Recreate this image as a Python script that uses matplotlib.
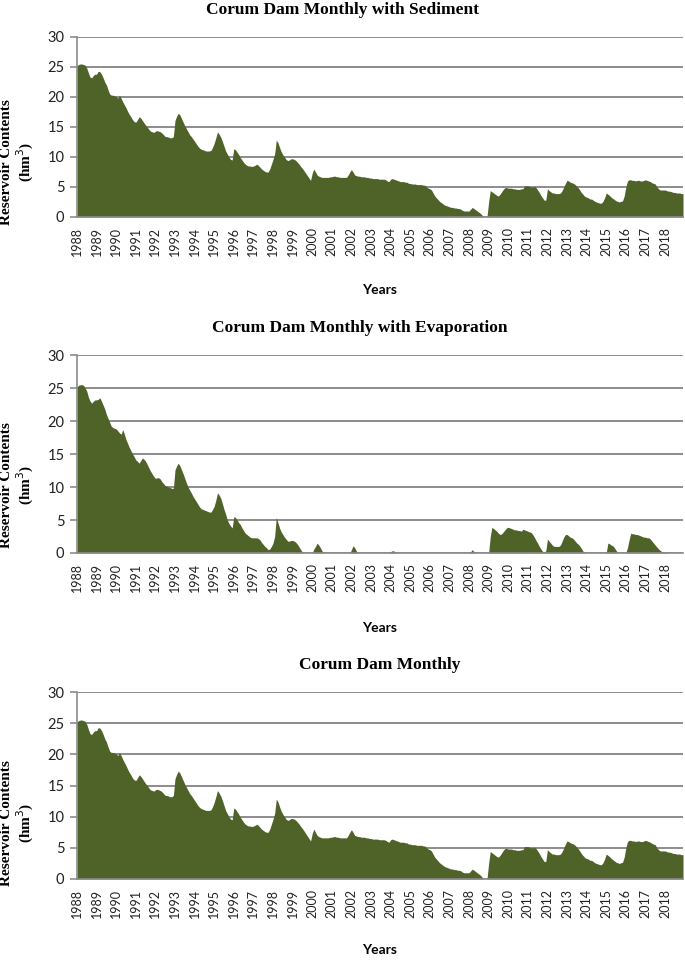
import numpy as np
import matplotlib
matplotlib.use("Agg")
from matplotlib import pyplot as plt

# monthly reservoir contents (hm3), Jan 1988 .. Dec 2018, one row per year
sediment = [
    25.2, 25.4, 25.5, 25.5, 25.4, 25.3, 24.8, 24.0, 23.3, 23.2, 23.6, 23.8,  # 1988
    23.8, 24.3, 24.2, 23.8, 23.2, 22.5, 22.0, 21.2, 20.5, 20.3, 20.3, 20.2,  # 1989
    20.1, 19.8, 20.3, 19.8, 19.2, 18.7, 18.2, 17.6, 17.1, 16.7, 16.2, 15.9,  # 1990
    15.8, 16.2, 16.7, 16.5, 16.1, 15.7, 15.3, 15.0, 14.6, 14.3, 14.2, 14.1,  # 1991
    14.3, 14.4, 14.3, 14.2, 14.0, 13.7, 13.4, 13.4, 13.3, 13.2, 13.2, 13.4,  # 1992
    16.1, 16.8, 17.3, 17.0, 16.4, 15.8, 15.2, 14.7, 14.2, 13.7, 13.4, 13.0,  # 1993
    12.6, 12.2, 11.8, 11.5, 11.3, 11.2, 11.1, 11.0, 11.0, 11.0, 11.1, 11.6,  # 1994
    12.3, 13.2, 14.2, 13.8, 13.3, 12.6, 11.8, 11.0, 10.5, 10.0, 9.6, 9.5,    # 1995
    11.4, 11.2, 10.8, 10.4, 9.9, 9.5, 9.1, 8.8, 8.6, 8.5, 8.5, 8.4,          # 1996
    8.5, 8.6, 8.8, 8.6, 8.3, 8.0, 7.8, 7.6, 7.5, 7.5, 8.0, 8.8,              # 1997
    9.6, 10.5, 12.8, 12.4, 11.6, 10.9, 10.4, 10.0, 9.6, 9.4, 9.5, 9.7,       # 1998
    9.7, 9.6, 9.4, 9.1, 8.8, 8.4, 8.1, 7.7, 7.3, 6.9, 6.5, 6.1,              # 1999
    7.3, 8.0, 7.5, 7.0, 6.8, 6.7, 6.6, 6.6, 6.6, 6.6, 6.6, 6.7,              # 2000
    6.7, 6.8, 6.8, 6.7, 6.7, 6.6, 6.6, 6.6, 6.6, 6.6, 7.0, 7.5,              # 2001
    7.9, 7.5, 7.0, 6.9, 6.8, 6.8, 6.7, 6.7, 6.7, 6.6, 6.6, 6.5,              # 2002
    6.5, 6.4, 6.4, 6.4, 6.4, 6.3, 6.3, 6.3, 6.3, 6.2, 6.0, 5.9,              # 2003
    6.3, 6.4, 6.3, 6.2, 6.1, 6.0, 5.9, 5.9, 5.9, 5.8, 5.8, 5.6,              # 2004
    5.6, 5.5, 5.5, 5.5, 5.4, 5.4, 5.4, 5.4, 5.3, 5.3, 5.0, 4.8,              # 2005
    4.7, 4.5, 4.0, 3.5, 3.2, 2.9, 2.6, 2.4, 2.2, 2.0, 1.9, 1.8,              # 2006
    1.7, 1.6, 1.6, 1.5, 1.5, 1.4, 1.4, 1.3, 1.1, 1.0, 1.0, 1.0,              # 2007
    1.0, 1.3, 1.6, 1.4, 1.2, 1.0, 0.8, 0.6, 0.3, 0.0, 0.0, 0.0,              # 2008
    2.5, 4.4, 4.2, 4.0, 3.8, 3.6, 3.5, 3.8, 4.2, 4.6, 4.9, 4.9,              # 2009
    4.8, 4.8, 4.8, 4.7, 4.7, 4.6, 4.6, 4.6, 4.7, 4.7, 5.2, 5.2,              # 2010
    5.2, 5.1, 5.0, 5.0, 5.1, 4.9, 4.5, 4.1, 3.6, 3.2, 2.8, 2.8,              # 2011
    4.7, 4.4, 4.2, 4.0, 4.0, 3.9, 3.9, 3.9, 4.0, 4.4, 5.0, 5.6,              # 2012
    6.1, 6.0, 5.8, 5.7, 5.6, 5.4, 5.1, 4.8, 4.4, 4.0, 3.7, 3.4,              # 2013
    3.3, 3.2, 3.0, 3.0, 2.8, 2.6, 2.5, 2.4, 2.3, 2.3, 2.6, 3.2,              # 2014
    4.0, 3.8, 3.6, 3.3, 3.1, 2.9, 2.7, 2.6, 2.5, 2.6, 2.7, 3.5,              # 2015
    5.0, 6.0, 6.2, 6.2, 6.1, 6.1, 6.0, 6.1, 6.1, 6.0, 6.0, 6.1,              # 2016
    6.2, 6.1, 6.0, 5.9, 5.7, 5.6, 5.5, 5.0, 4.7, 4.5, 4.5, 4.5,              # 2017
    4.5, 4.4, 4.3, 4.3, 4.2, 4.1, 4.1, 4.0, 4.0, 4.0, 3.9, 3.9,              # 2018
]

evaporation = [
    25.2, 25.4, 25.5, 25.5, 25.4, 25.0, 24.5, 23.6, 23.0, 22.7, 23.0, 23.2,  # 1988
    23.2, 23.3, 23.5, 23.0, 22.4, 21.8, 21.0, 20.4, 19.8, 19.2, 19.0, 18.9,  # 1989
    18.8, 18.5, 18.2, 18.0, 18.7, 18.0, 17.2, 16.6, 16.0, 15.5, 15.0, 14.6,  # 1990
    14.1, 13.9, 13.6, 14.0, 14.4, 14.2, 13.9, 13.4, 12.9, 12.4, 12.0, 11.6,  # 1991
    11.3, 11.4, 11.4, 11.2, 10.8, 10.5, 10.2, 10.1, 10.0, 9.9, 9.8, 9.8,     # 1992
    12.6, 13.2, 13.6, 13.2, 12.6, 12.0, 11.3, 10.6, 10.0, 9.5, 9.1, 8.6,     # 1993
    8.2, 7.8, 7.4, 7.0, 6.7, 6.6, 6.5, 6.4, 6.3, 6.2, 6.2, 6.6,              # 1994
    7.1, 8.0, 9.1, 8.8, 8.3, 7.5, 6.6, 5.9, 5.0, 4.5, 4.1, 3.8,              # 1995
    5.5, 5.4, 5.0, 4.6, 4.3, 3.8, 3.4, 3.0, 2.8, 2.6, 2.4, 2.3,              # 1996
    2.3, 2.3, 2.3, 2.2, 2.0, 1.6, 1.3, 1.0, 0.8, 0.5, 0.6, 1.0,              # 1997
    1.5, 2.5, 5.4, 4.6, 3.8, 3.2, 2.8, 2.4, 2.1, 1.8, 1.8, 1.9,              # 1998
    1.9, 1.8, 1.6, 1.3, 0.9, 0.5, 0.1, 0.0, 0.0, 0.0, 0.0, 0.0,              # 1999
    0.0, 0.6, 1.0, 1.5, 1.2, 0.8, 0.3, 0.0, 0.0, 0.0, 0.0, 0.0,              # 2000
    0.0, 0.0, 0.0, 0.0, 0.0, 0.0, 0.0, 0.0, 0.0, 0.0, 0.0, 0.0,              # 2001
    0.5, 1.1, 0.8, 0.3, 0.0, 0.0, 0.0, 0.0, 0.0, 0.0, 0.0, 0.0,              # 2002
    0.0, 0.0, 0.0, 0.0, 0.0, 0.0, 0.0, 0.0, 0.0, 0.0, 0.0, 0.0,              # 2003
    0.2, 0.35, 0.3, 0.1, 0.0, 0.0, 0.0, 0.0, 0.0, 0.0, 0.0, 0.0,             # 2004
    0.0, 0.0, 0.0, 0.0, 0.0, 0.0, 0.0, 0.0, 0.0, 0.0, 0.0, 0.0,              # 2005
    0.0, 0.0, 0.0, 0.0, 0.0, 0.0, 0.0, 0.0, 0.0, 0.0, 0.0, 0.0,              # 2006
    0.0, 0.0, 0.0, 0.0, 0.0, 0.0, 0.0, 0.0, 0.0, 0.0, 0.0, 0.0,              # 2007
    0.0, 0.2, 0.5, 0.2, 0.0, 0.0, 0.0, 0.0, 0.0, 0.0, 0.0, 0.0,              # 2008
    0.0, 2.5, 3.9, 3.7, 3.5, 3.3, 3.0, 2.8, 2.9, 3.2, 3.5, 3.8,              # 2009
    3.9, 3.8, 3.7, 3.6, 3.5, 3.5, 3.4, 3.4, 3.3, 3.6, 3.5, 3.4,              # 2010
    3.3, 3.2, 3.1, 2.8, 2.4, 1.9, 1.5, 1.0, 0.6, 0.25, 0.2, 0.3,             # 2011
    2.1, 1.8, 1.5, 1.2, 1.0, 1.0, 1.0, 1.0, 1.2, 1.8, 2.4, 2.8,              # 2012
    2.8, 2.6, 2.4, 2.3, 2.1, 1.8, 1.5, 1.3, 1.0, 0.6, 0.2, 0.0,              # 2013
    0.0, 0.0, 0.0, 0.0, 0.0, 0.0, 0.0, 0.0, 0.0, 0.0, 0.0, 0.0,              # 2014
    0.0, 1.5, 1.4, 1.2, 1.1, 0.8, 0.4, 0.0, 0.0, 0.0, 0.0, 0.0,              # 2015
    0.0, 0.8, 2.0, 3.0, 2.9, 2.9, 2.8, 2.8, 2.7, 2.6, 2.5, 2.4,              # 2016
    2.4, 2.3, 2.3, 2.1, 1.8, 1.5, 1.2, 0.9, 0.6, 0.4, 0.2, 0.1,              # 2017
    0.1, 0.1, 0.0, 0.0, 0.0, 0.0, 0.0, 0.0, 0.0, 0.0, 0.0, 0.0,              # 2018
]

# the plain monthly run reads the same as the sediment run in the picture
monthly = list(sediment)

years = list(range(1988, 2019))
titles = ["Corum Dam Monthly with Sediment",
          "Corum Dam Monthly with Evaporation",
          "Corum Dam Monthly"]

FILL = "#4f6228"
GRID = "#8c8c8c"
SERIF = ["Liberation Serif", "DejaVu Serif"]
SANS = ["Lato", "DejaVu Sans"]

fig = plt.figure(figsize=(6.85, 9.61), dpi=100)
W, H = 685.0, 961.0

# panel boxes in pixels: top, bottom of plot area; title y, label centre y, "Years" y, title x
panels = [
    (37, 217, 10, 162, 290, 343),
    (355, 553, 328, 485, 628, 360),
    (692, 879, 665, 823, 950, 380),
]
series = [sediment, evaporation, monthly]

x = np.arange(len(sediment))
left, right = 77, 683

for (top, bot, ty, ly, yy, tx), vals, title in zip(panels, series, titles):
    ax = fig.add_axes([left / W, 1 - bot / H, (right - left) / W, (bot - top) / H])
    ax.fill_between(x, vals, 0, color=FILL, linewidth=0)
    ax.set_xlim(0, len(x) - 1)
    ax.set_ylim(0, 30)
    ax.set_yticks(range(0, 31, 5))
    ax.set_xticks([12 * i for i in range(len(years))])
    ax.set_xticklabels([str(y) for y in years], rotation=90, family=SANS, fontsize=9)
    for lab in ax.get_yticklabels():
        lab.set_family(SANS)
        lab.set_fontsize(10.5)
    ax.yaxis.grid(True, color=GRID, linewidth=1.4)
    ax.set_axisbelow(True)
    for s in ["top", "right"]:
        ax.spines[s].set_visible(False)
    for s in ["left", "bottom"]:
        ax.spines[s].set_color(GRID)
        ax.spines[s].set_linewidth(1.2)
    ax.tick_params(axis="y", length=5, color=GRID, width=1.2, pad=4, labelcolor="#222222")
    ax.tick_params(axis="x", length=0, pad=7, labelcolor="#222222")

    fig.text(tx / W, 1 - ty / H, title, ha="center", va="center",
             family=SERIF, fontweight="bold", fontsize=12.5)
    fig.text(18 / W, 1 - ly / H, "Reservoir Contents\n(hm$^3$)", ha="center", va="center",
             rotation=90, family=SERIF, fontweight="bold", fontsize=11, linespacing=1.1)
    fig.text(380 / W, 1 - yy / H, "Years", ha="center", va="center",
             family=SANS, fontweight="bold", fontsize=10)

fig.savefig("out.png", dpi=100)
